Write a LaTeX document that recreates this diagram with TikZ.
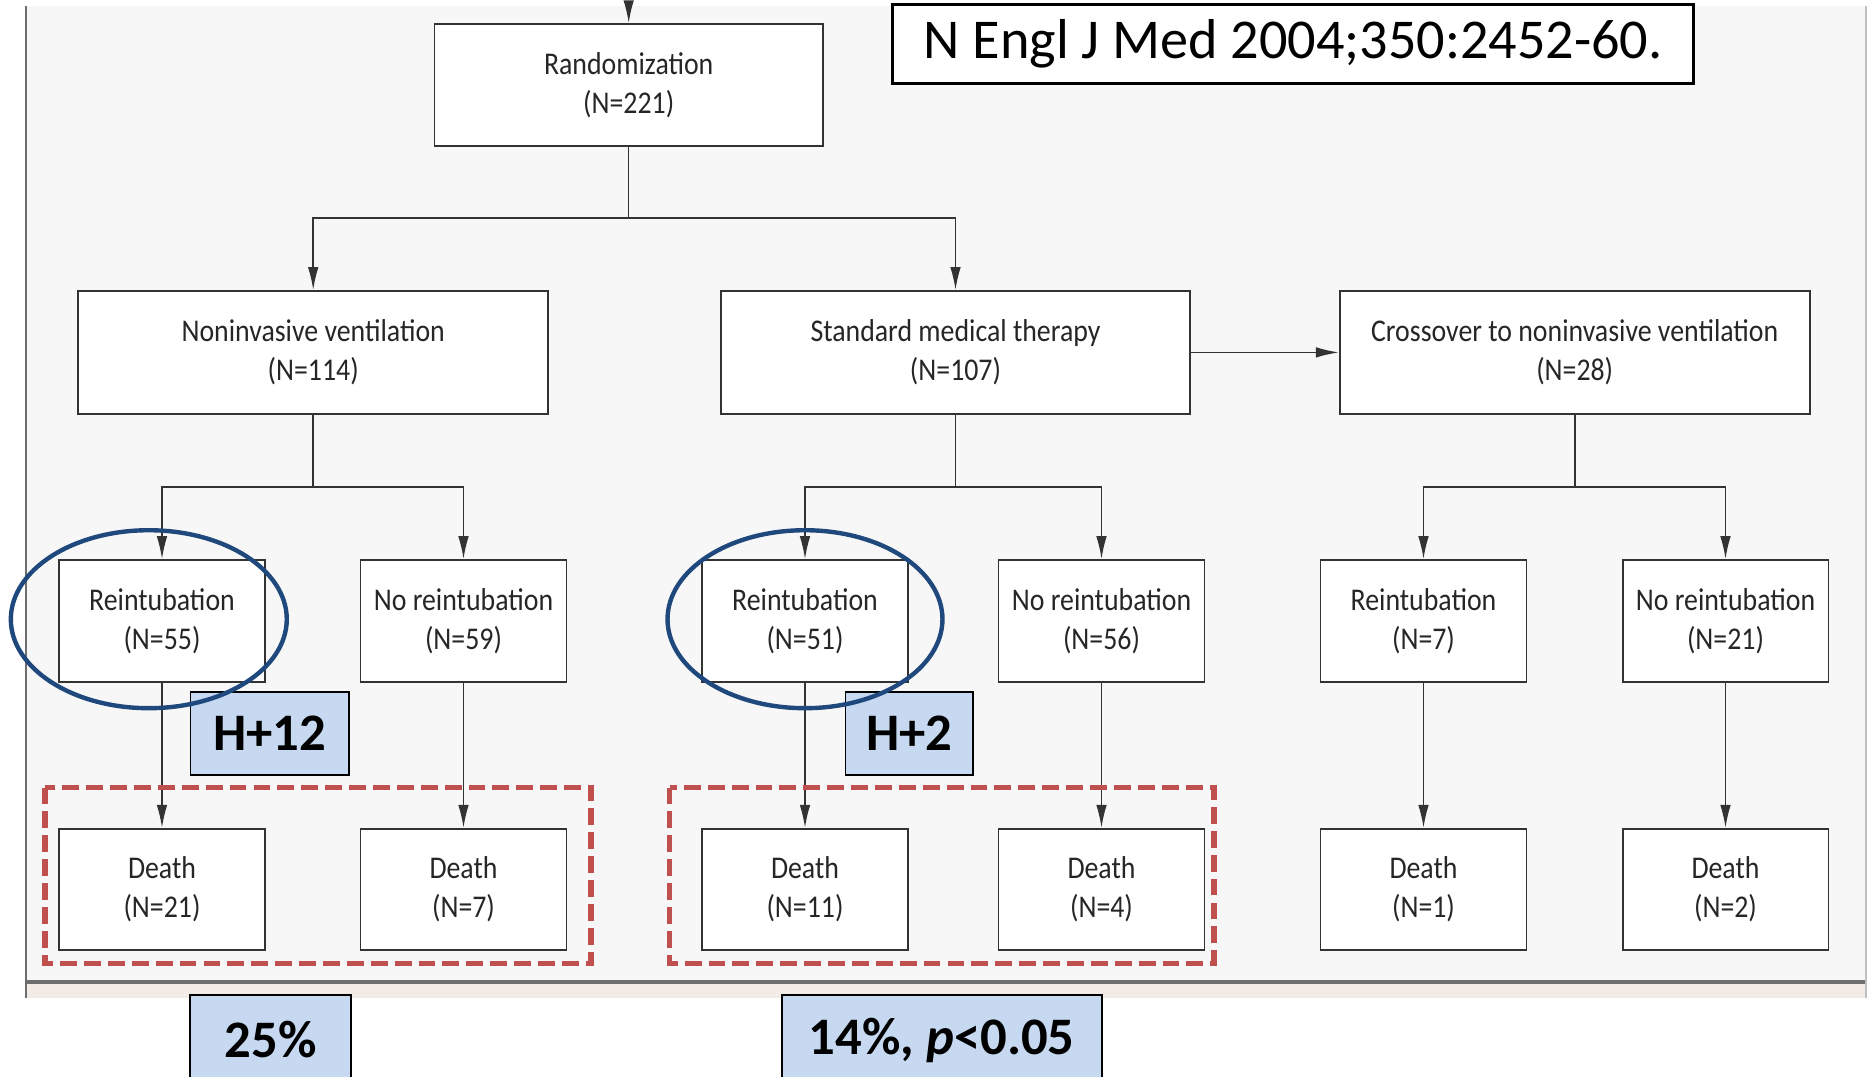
\documentclass[tikz,border=0pt]{standalone}
\usepackage{fontspec}
\setmainfont{Carlito}
\newfontfamily\nejm[FakeStretch=0.88]{Carlito}
\usepackage{xcolor}
\usetikzlibrary{arrows.meta}

\definecolor{panelbg}{HTML}{F7F7F7}
\definecolor{stripbg}{HTML}{F3ECE6}
\definecolor{frameline}{HTML}{6E6E6E}
\definecolor{boxline}{HTML}{333333}
\definecolor{ringblue}{HTML}{1F497D}
\definecolor{tagblue}{HTML}{C6D9F0}
\definecolor{dashred}{HTML}{C0504D}

\begin{document}
\begin{tikzpicture}[x=0.02cm, y=-0.02cm,
		box/.style={draw=boxline, line width=1.1pt, fill=white, align=center,
			inner sep=0pt, text=black!85, font=\nejm\fontsize{18}{22.3}\selectfont},
		wide/.style={box, minimum width=9.4cm, minimum height=2.46cm},
		leaf/.style={box, minimum width=4.12cm, minimum height=2.44cm},
		arr/.style={draw=boxline, line width=0.9pt, -{Latex[length=13pt,width=6pt]}},
		tag/.style={draw=black, line width=1.1pt, fill=tagblue, inner sep=0pt,
			minimum height=1.67cm, font=\bfseries\fontsize{30}{32}\selectfont},
		ring/.style={draw=ringblue, line width=2.5pt},
		grp/.style={draw=dashred, line width=3pt, dash pattern=on 9.6pt off 4pt}
		]
		\useasboundingbox (0,0) rectangle (1867,1076);
		
		% panel of the figure
		\fill[panelbg] (25,6) rectangle (1867,982);
		\fill[stripbg] (26,983) rectangle (1865,998);
		\draw[frameline, line width=1.4pt] (26,6) -- (26,998);
		\draw[frameline, line width=1.8pt] (25,982) -- (1867,982);
		\draw[black!25, line width=0.6pt] (1866,6) -- (1866,998);
		
		% randomization and the three arms
		\node[box, minimum width=7.77cm, minimum height=2.43cm] (rand) at (628.7,84.8) {Randomization\\(N=221)};
		\node[wide] (niv) at (313.2,352.4) {Noninvasive ventilation\\(N=114)};
		\node[wide] (smt) at (955.5,352.4) {Standard medical therapy\\(N=107)};
		\node[wide] (cross) at (1574.7,352.4) {Crossover to noninvasive ventilation\\(N=28)};
		
		\coordinate (top) at (628.7,6);
		\draw[arr] (top) -- (rand);
		\coordinate (f0) at (628.7,218);
		\draw[boxline, line width=0.9pt] (rand) -- (f0);
		\draw[arr] (f0) -| (niv);
		\draw[arr] (f0) -| (smt);
		\draw[arr] (smt) -- (cross);
		
		% reintubation and deaths
		\foreach \x/\t/\n/\d [count=\i] in {162/Reintubation/55/21, 463.5/No reintubation/59/7,
			805/Reintubation/51/11, 1101.5/No reintubation/56/4,
			1423.5/Reintubation/7/1, 1725.5/No reintubation/21/2} {
			\node[leaf] (c\i) at (\x,621) {\t\\(N=\n)};
			\node[leaf, minimum height=2.43cm] (d\i) at (\x,889.5) {Death\\(N=\d)};
			\draw[arr] (c\i) -- (d\i);
		}
		\coordinate (f1) at (313.2,487);
		\coordinate (f2) at (955.5,487);
		\coordinate (f3) at (1574.7,487);
		\foreach \a/\b/\c in {niv/1/1, smt/2/3, cross/3/5} {
			\pgfmathtruncatemacro{\next}{add(\c,1)}
			\draw[boxline, line width=0.9pt] (\a) -- (f\b);
			\draw[arr] (f\b) -| (c\c);
			\draw[arr] (f\b) -| (c\next);
		}
		
		% highlights
		\draw[grp] (45,787.5) rectangle (591,963.5);
		\draw[grp] (669.5,787.5) rectangle (1214,963.5);
		\node[tag, minimum width=3.17cm] (h12) at (269.7,733.5) {H+12};
		\node[tag, minimum width=2.55cm] (h2) at (909.2,733.5) {H+2};
		\draw[ring] (148.8,619.2) ellipse [x radius=2.76cm, y radius=1.78cm];
		\draw[ring] (805,619.2) ellipse [x radius=2.75cm, y radius=1.78cm];
		\node[tag, minimum width=3.22cm, minimum height=1.8cm] (rate1) at (270.5,1040) {25\%};
		\node[tag, minimum width=6.4cm, minimum height=1.8cm] (rate2) at (941.7,1040) {14\%, \textit{p}<0.05};
		
		% reference
		\node[draw=black, line width=1.4pt, fill=white, minimum width=16.02cm, minimum height=1.58cm,
		inner sep=0pt, font=\fontsize{32}{34}\selectfont] (cite) at (1293,44) {N Engl J Med 2004;350:2452-60.};
\end{tikzpicture}
\end{document}
